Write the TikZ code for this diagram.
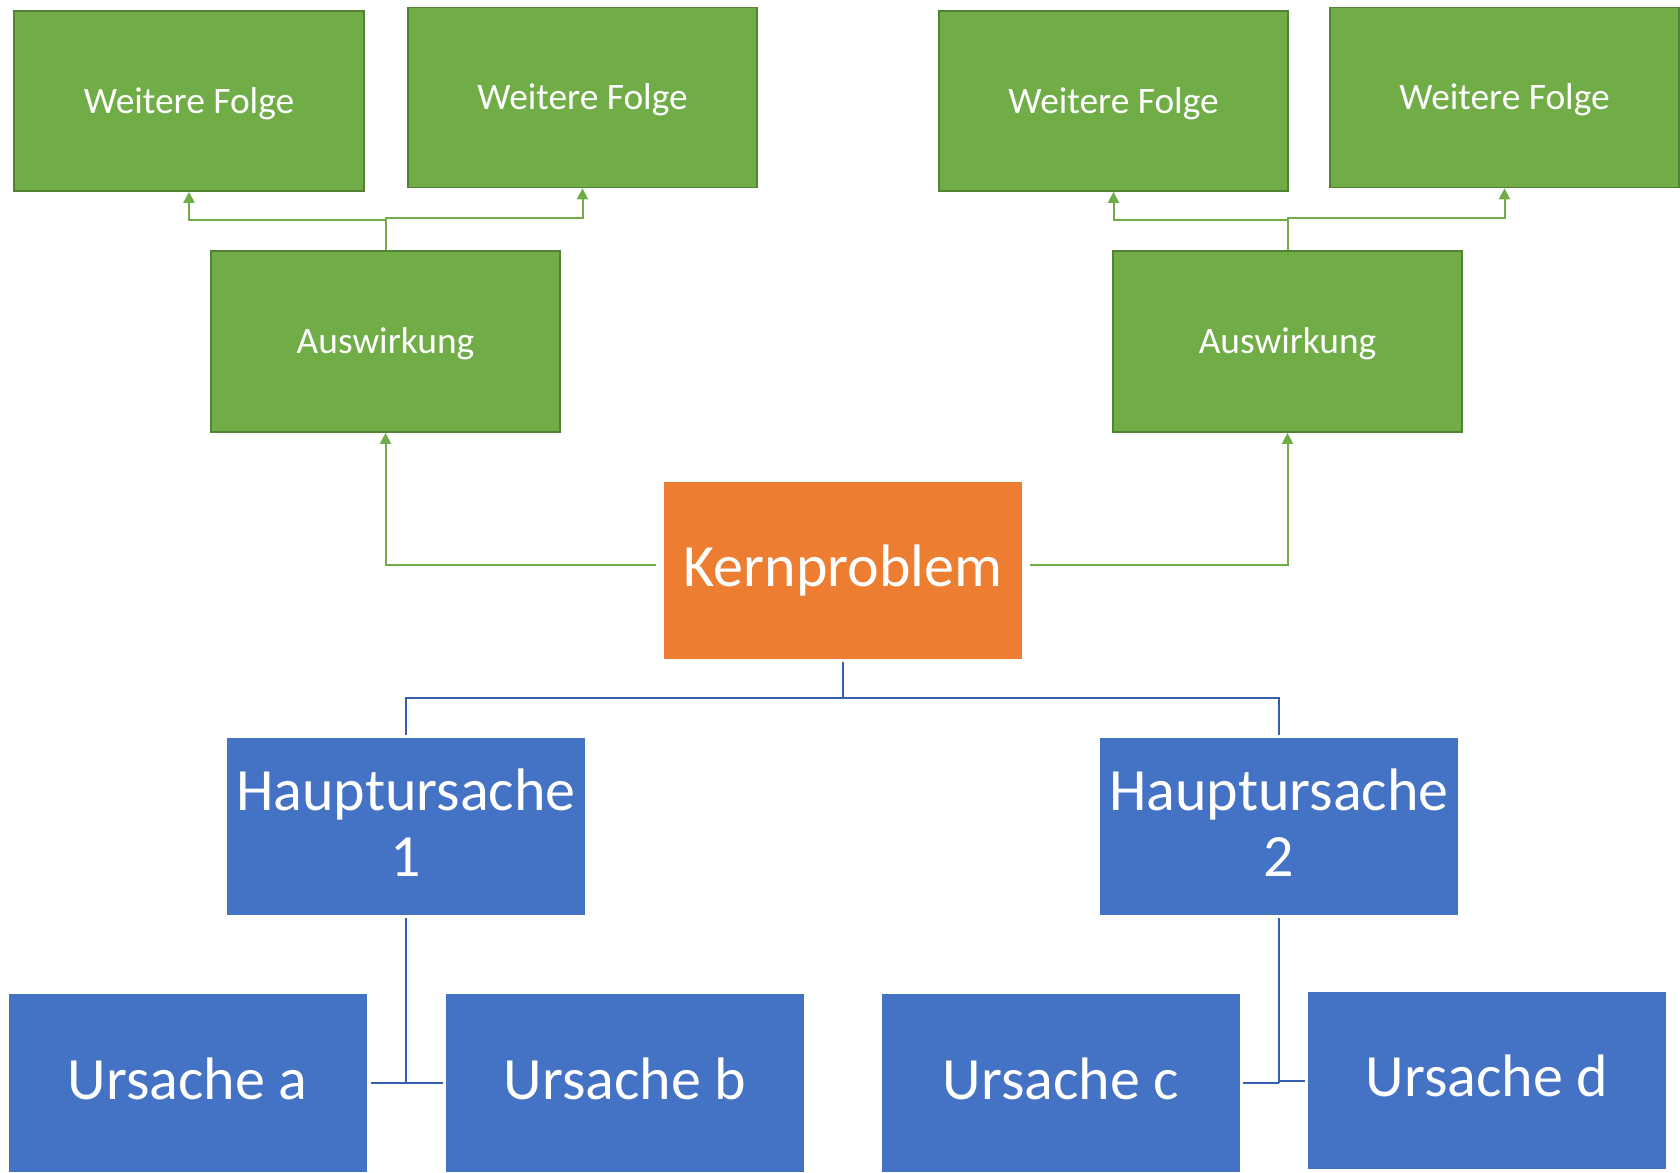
\documentclass[tikz,border=0pt]{standalone}
\usepackage{fontspec}
\setmainfont{Carlito}
\usetikzlibrary{arrows.meta,calc}
\definecolor{gfill}{HTML}{70AD47}
\definecolor{gdraw}{HTML}{548235}
\definecolor{ofill}{HTML}{ED7D31}
\definecolor{bfill}{HTML}{4472C4}
\definecolor{bline}{HTML}{3560AE}
\newcommand{\twolines}[2]{\raisebox{0pt}[10pt][26.5pt]{\begin{tabular}[t]{@{}c@{}}#1\\#2\end{tabular}}}
\tikzset{
  greenbox/.style={draw=gdraw, line width=0.8pt, fill=gfill, text=white, inner sep=0pt,
    minimum width=174.5pt, minimum height=90pt, text height=12.2pt, text depth=0pt,
    font=\fontsize{18.7}{22}\selectfont},
  orangebox/.style={fill=ofill, text=white, inner sep=0pt, text height=15.5pt, text depth=0pt,
    minimum width=179pt, minimum height=88.5pt, font=\fontsize{30}{31}\selectfont},
  bluebox/.style={fill=bfill, text=white, inner sep=0pt, text height=16.4pt, text depth=0pt,
    minimum width=179pt, minimum height=88.5pt, font=\fontsize{30}{33}\selectfont},
  blue2box/.style={fill=bfill, text=white, inner sep=0pt,
    minimum width=179pt, minimum height=88.5pt, font=\fontsize{30}{33}\selectfont},
  garrow/.style={draw=gfill, line width=1pt, -{Triangle[length=5.5pt,width=5.5pt]}},
  bconn/.style={draw=bline, line width=1pt},
}
\begin{document}
\begin{tikzpicture}[x=0.5pt,y=-0.5pt]
\useasboundingbox (0,0) rectangle (1680,1172);
% green top row
\node[greenbox, minimum width=175pt] (wf1) at (189,101) {Weitere Folge};
\node[greenbox] (wf2) at (582.5,97.5) {Weitere Folge};
\node[greenbox] (wf3) at (1113.5,101) {Weitere Folge};
\node[greenbox] (wf4) at (1504.5,97.5) {Weitere Folge};
% Auswirkung
\node[greenbox, minimum height=90.5pt] (aus1) at (385.5,341.5) {Auswirkung};
\node[greenbox, minimum height=90.5pt] (aus2) at (1287.5,341.5) {Auswirkung};
% Kernproblem
\node[orangebox] (kern) at (843,570.5) {Kernproblem};
% Hauptursachen
\node[blue2box] (h1) at (406,826.5) {\twolines{Hauptursache}{1}};
\node[blue2box] (h2) at (1279,826.5) {\twolines{Hauptursache}{2}};
% Ursachen
\node[bluebox, minimum height=89pt] (ua) at (187.5,1083) {Ursache a};
\node[bluebox, minimum height=89pt] (ub) at (625,1083) {Ursache b};
\node[bluebox, minimum height=89pt] (uc) at (1061,1083) {Ursache c};
\node[bluebox] (ud) at (1487,1080.5) {Ursache d};
% green connectors: Kernproblem -> Auswirkung
\draw[garrow, shorten <=4pt] ([yshift=3pt]kern.west) -| (aus1.south);
\draw[garrow, shorten <=4pt] ([yshift=3pt]kern.east) -| (aus2.south);
% Auswirkung -> Weitere Folge
\draw[garrow] (aus1.north) -- ++(0,-30) -| (wf1.south);
\draw[garrow] (aus1.north) -- ++(0,-32) -| (wf2.south);
\draw[garrow] (aus2.north) -- ++(0,-30) -| (wf3.south);
\draw[garrow] (aus2.north) -- ++(0,-32) -| (wf4.south);
% blue connectors
\draw[bconn, shorten <=1.5pt, shorten >=1.5pt] (kern.south) -- ++(0,39) -| (h1.north);
\draw[bconn, shorten <=1.5pt, shorten >=1.5pt] (kern.south) -- ++(0,39) -| (h2.north);
\coordinate (j1) at (h1.south |- ua.east);
\coordinate (j2) at (h2.south |- uc.east);
\draw[bconn, shorten <=1.5pt] (h1.south) -- (j1);
\draw[bconn, shorten <=2pt, shorten >=1.5pt] (ua.east) -- (ub.west);
\draw[bconn, shorten <=1.5pt] (h2.south) -- (j2);
\draw[bconn, shorten <=1.5pt] (uc.east) -- (j2);
\draw[bconn, shorten >=1.5pt] (j2 |- ud.west) -- (ud.west);
\end{tikzpicture}
\end{document}
